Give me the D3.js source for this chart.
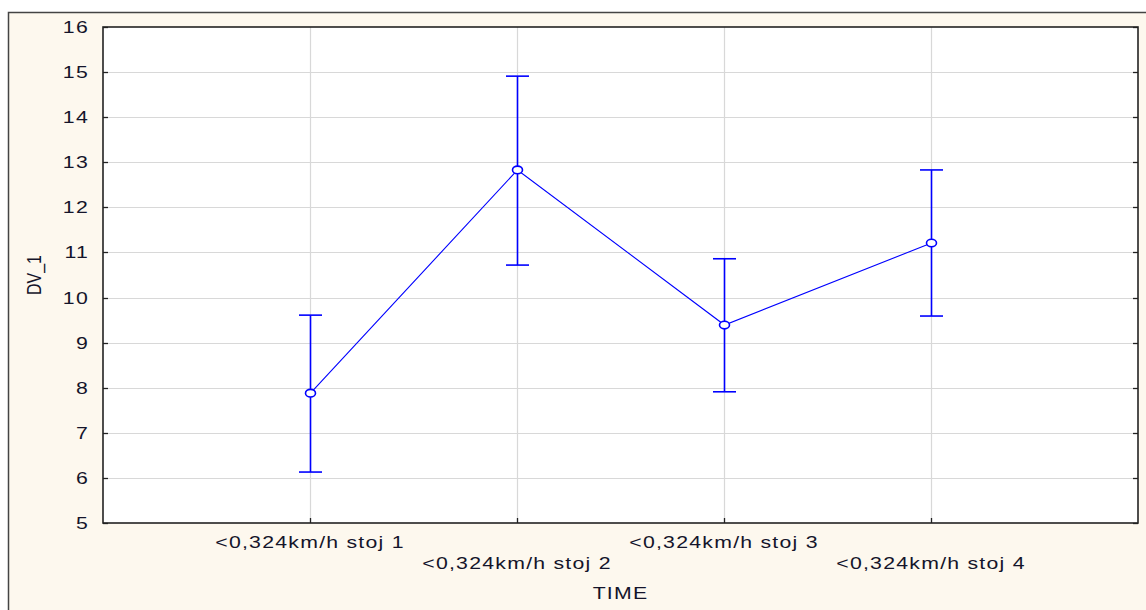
<!DOCTYPE html>
<html>
<head>
<meta charset="utf-8">
<script src="https://cdn.jsdelivr.net/npm/d3@7"></script>
<style>
  html, body { margin: 0; padding: 0; background: #ffffff; }
  svg { display: block; font-family: "Liberation Sans", Arial, sans-serif; }
</style>
</head>
<body>
<svg width="1146" height="610"></svg>
<script>
// Data
var categories = [
  "<0,324km/h stoj 1",
  "<0,324km/h stoj 2",
  "<0,324km/h stoj 3",
  "<0,324km/h stoj 4",
];
var means = [7.88, 12.83, 9.39, 11.21];
var upper = [9.61, 14.91, 10.86, 12.83];
var lower = [6.13, 10.72, 7.91, 9.59];
var yTicks = [5, 6, 7, 8, 9, 10, 11, 12, 13, 14, 15, 16];

var svg = d3.select("svg");
const width = 1146;
const height = 610;
const margin = { top: 27, bottom: 87, left: 103, right: 8 };
const innerW = width - margin.left - margin.right;
const innerH = height - margin.top - margin.bottom;
const blue = "#0000ff";
const textColor = "#14142a";
//The original text is stretched sideways
const stretch = 1.25;

//Outer cream panel with its frame
svg
  .append("rect")
  .attr("x", 8.5)
  .attr("y", 12.5)
  .attr("width", 1200)
  .attr("height", 700)
  .attr("fill", "#fdf8ee")
  .attr("stroke", "#444")
  .attr("stroke-width", 1.5);

//Scales
var xScale = d3.scaleLinear().domain([0, 5]).range([0, innerW]);
var yScale = d3.scaleLinear().domain([5, 16]).range([innerH, 0]);

var g = svg
  .append("g")
  .attr("transform", `translate(${margin.left},${margin.top})`);

//Plot background
g.append("rect")
  .attr("width", innerW)
  .attr("height", innerH)
  .attr("fill", "#ffffff");

//Gridlines
g.selectAll(".hgrid")
  .data(yTicks.slice(1, -1))
  .join("line")
  .attr("class", "hgrid")
  .attr("x1", 0)
  .attr("x2", innerW)
  .attr("y1", (d) => Math.round(yScale(d)) + 0.5)
  .attr("y2", (d) => Math.round(yScale(d)) + 0.5)
  .attr("stroke", "#d8d8d8")
  .attr("stroke-width", 1.2);

g.selectAll(".vgrid")
  .data(categories)
  .join("line")
  .attr("class", "vgrid")
  .attr("x1", (d, i) => Math.round(xScale(i + 1)) + 0.5)
  .attr("x2", (d, i) => Math.round(xScale(i + 1)) + 0.5)
  .attr("y1", 0)
  .attr("y2", innerH)
  .attr("stroke", "#d8d8d8")
  .attr("stroke-width", 1.2);

//Inward ticks on left, right and bottom
g.selectAll(".ltick")
  .data(yTicks)
  .join("line")
  .attr("x1", 0)
  .attr("x2", 5)
  .attr("y1", (d) => Math.round(yScale(d)) + 0.5)
  .attr("y2", (d) => Math.round(yScale(d)) + 0.5)
  .attr("stroke", "#222")
  .attr("stroke-width", 1.3);

g.selectAll(".rtick")
  .data(yTicks)
  .join("line")
  .attr("x1", innerW - 5)
  .attr("x2", innerW)
  .attr("y1", (d) => Math.round(yScale(d)) + 0.5)
  .attr("y2", (d) => Math.round(yScale(d)) + 0.5)
  .attr("stroke", "#222")
  .attr("stroke-width", 1.3);

g.selectAll(".btick")
  .data(categories)
  .join("line")
  .attr("x1", (d, i) => Math.round(xScale(i + 1)) + 0.5)
  .attr("x2", (d, i) => Math.round(xScale(i + 1)) + 0.5)
  .attr("y1", innerH - 5)
  .attr("y2", innerH)
  .attr("stroke", "#222")
  .attr("stroke-width", 1.3);

//Plot border
g.append("rect")
  .attr("width", innerW)
  .attr("height", innerH)
  .attr("fill", "none")
  .attr("stroke", "#222")
  .attr("stroke-width", 1.6);

//Y tick labels
g.selectAll(".ylabel")
  .data(yTicks)
  .join("text")
  .attr("transform", (d) => `translate(-14,${yScale(d)}) scale(${stretch},1)`)
  .attr("dy", "0.35em")
  .attr("text-anchor", "end")
  .attr("font-size", 17)
  .attr("letter-spacing", 1)
  .attr("fill", textColor)
  .text((d) => d);

//X category labels, staggered on two rows
g.selectAll(".xlabel")
  .data(categories)
  .join("text")
  .attr("transform", (d, i) =>
    `translate(${xScale(i + 1)},${(i % 2 === 0 ? 542 : 563.5) - margin.top}) scale(${stretch},1)`)
  .attr("dy", "0.35em")
  .attr("text-anchor", "middle")
  .attr("font-size", 17)
  .attr("letter-spacing", 1)
  .attr("fill", textColor)
  .text((d) => d);

//Axis titles
svg
  .append("text")
  .attr("transform", `translate(${margin.left + innerW / 2},593) scale(${stretch},1)`)
  .attr("dy", "0.35em")
  .attr("text-anchor", "middle")
  .attr("font-size", 17)
  .attr("letter-spacing", 1)
  .attr("fill", textColor)
  .text("TIME");

svg
  .append("text")
  .attr("transform", `translate(34,275) rotate(-90) scale(1,${stretch})`)
  .attr("dy", "0.35em")
  .attr("text-anchor", "middle")
  .attr("font-size", 16)
  .attr("fill", textColor)
  .text("DV_1");

//Error bars
g.selectAll(".ebar")
  .data(categories)
  .join("line")
  .attr("class", "ebar")
  .attr("x1", (d, i) => Math.round(xScale(i + 1)) + 0.5)
  .attr("x2", (d, i) => Math.round(xScale(i + 1)) + 0.5)
  .attr("y1", (d, i) => yScale(upper[i]))
  .attr("y2", (d, i) => yScale(lower[i]))
  .attr("stroke", blue)
  .attr("stroke-width", 1.6);

[upper, lower].forEach(function (arr) {
  g.selectAll(null)
    .data(categories)
    .join("line")
    .attr("x1", (d, i) => xScale(i + 1) - 11)
    .attr("x2", (d, i) => xScale(i + 1) + 12)
    .attr("y1", (d, i) => yScale(arr[i]))
    .attr("y2", (d, i) => yScale(arr[i]))
    .attr("stroke", blue)
    .attr("stroke-width", 1.6);
});

//Mean line
var line = d3
  .line()
  .x((d, i) => xScale(i + 1) + 0.5)
  .y((d) => yScale(d));

g.append("path")
  .attr("d", line(means))
  .attr("fill", "none")
  .attr("stroke", blue)
  .attr("stroke-width", 1.1);

//Markers
g.selectAll(".marker")
  .data(means)
  .join("ellipse")
  .attr("class", "marker")
  .attr("cx", (d, i) => xScale(i + 1) + 0.5)
  .attr("cy", (d) => yScale(d))
  .attr("rx", 5)
  .attr("ry", 3.8)
  .attr("fill", "#ffffff")
  .attr("stroke", blue)
  .attr("stroke-width", 1.6);
</script>
</body>
</html>
